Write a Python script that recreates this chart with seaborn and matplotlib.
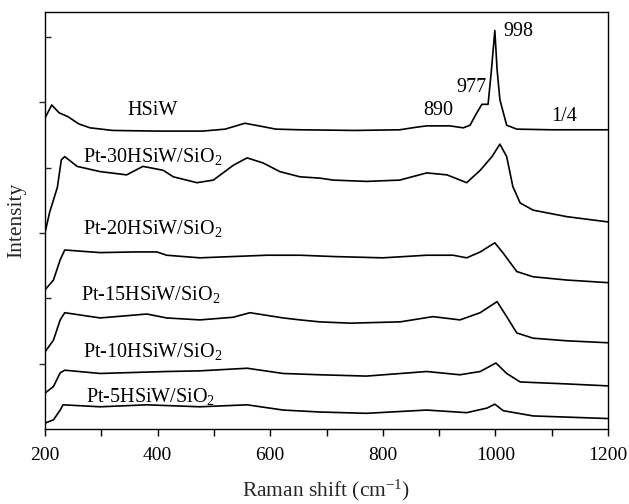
import matplotlib
matplotlib.use("Agg")
import matplotlib.pyplot as plt
from matplotlib.ticker import FixedLocator, NullFormatter
import seaborn as sns
import pandas as pd

# ---- data (intensity in arbitrary stacked units) ----
hsiw_x = [200, 212, 225, 241, 260, 280, 320, 400, 480, 520, 555, 580, 610, 653, 750, 830, 860,
          878, 900, 919, 943, 955, 967, 976, 987, 993, 999, 1003, 1008, 1020, 1038, 1100, 1200]
hsiw_y = [4.76, 4.96, 4.84, 4.78, 4.67, 4.61, 4.57, 4.56, 4.56, 4.59, 4.68, 4.64, 4.59, 4.58, 4.57,
          4.58, 4.62, 4.64, 4.64, 4.64, 4.61, 4.65, 4.84, 4.97, 4.97, 5.50, 6.10, 5.50, 5.04, 4.65,
          4.59, 4.58, 4.58]

pt30_x = [200, 208, 222, 229, 235, 257, 298, 345, 374, 410, 428, 470, 499, 535, 559, 588, 617, 653,
          688, 712, 771, 830, 878, 914, 949, 973, 994, 1008, 1020, 1031, 1044, 1067, 1127, 1200]
pt30_y = [3.00, 3.31, 3.70, 4.12, 4.17, 4.02, 3.94, 3.89, 4.02, 3.96, 3.86, 3.77, 3.81, 4.04, 4.15,
          4.07, 3.94, 3.86, 3.84, 3.81, 3.79, 3.81, 3.92, 3.89, 3.77, 3.96, 4.17, 4.36, 4.17, 3.71,
          3.46, 3.35, 3.25, 3.17]

pt20_x = [200, 215, 227, 235, 298, 357, 399, 416, 475, 534, 594, 653, 712, 800, 878, 925, 949, 973,
          999, 1014, 1038, 1067, 1127, 1200]
pt20_y = [2.13, 2.28, 2.59, 2.74, 2.70, 2.71, 2.71, 2.66, 2.62, 2.64, 2.66, 2.66, 2.64, 2.62, 2.66,
          2.66, 2.62, 2.71, 2.85, 2.69, 2.41, 2.33, 2.28, 2.24]

pt15_x = [200, 215, 227, 235, 298, 381, 416, 475, 534, 564, 623, 653, 688, 742, 831, 889, 937, 973,
          1003, 1020, 1038, 1067, 1127, 1200]
pt15_y = [1.18, 1.36, 1.67, 1.78, 1.70, 1.76, 1.70, 1.67, 1.71, 1.78, 1.70, 1.67, 1.64, 1.62, 1.64,
          1.72, 1.67, 1.78, 1.95, 1.72, 1.47, 1.39, 1.35, 1.32]

pt10_x = [200, 215, 227, 235, 298, 416, 475, 559, 623, 688, 771, 878, 937, 973, 1001, 1020, 1044,
          1127, 1200]
pt10_y = [0.55, 0.65, 0.86, 0.90, 0.85, 0.88, 0.89, 0.93, 0.85, 0.83, 0.81, 0.88, 0.83, 0.88, 1.01,
          0.85, 0.72, 0.69, 0.66]

pt5_x = [200, 215, 227, 232, 298, 381, 475, 559, 623, 688, 771, 878, 949, 985, 999, 1014, 1067, 1200]
pt5_y = [0.09, 0.14, 0.29, 0.37, 0.34, 0.37, 0.34, 0.37, 0.29, 0.26, 0.24, 0.29, 0.25, 0.32, 0.38,
         0.28, 0.20, 0.16]

series_labels = ["HSiW", "Pt-30HSiW/SiO$_2$", "Pt-20HSiW/SiO$_2$", "Pt-15HSiW/SiO$_2$",
                 "Pt-10HSiW/SiO$_2$", "Pt-5HSiW/SiO$_2$"]
label_x = [392, 392, 392, 388, 392, 388]
label_y = [4.88, 4.17, 3.07, 2.06, 1.19, 0.50]

peak_texts = ["890", "977", "998", "1/4"]
peak_x = [898, 958, 1040, 1122]
peak_y = [4.88, 5.23, 6.09, 4.78]

x_ticks = [200, 400, 600, 800, 1000, 1200]
x_minor = [300, 500, 700, 900, 1100]
y_major = [1, 3, 5]
y_minor = [2, 4, 6]

# ---- style ----
sns.set_style("ticks")
plt.rcParams["font.family"] = ["Liberation Serif", "DejaVu Serif"]
plt.rcParams["mathtext.fontset"] = "custom"
plt.rcParams["mathtext.rm"] = "Liberation Serif"
plt.rcParams["mathtext.it"] = "Liberation Serif:italic"
plt.rcParams["mathtext.default"] = "regular"

fig = plt.figure(figsize=(6.29, 5.04), dpi=100)
ax = fig.add_axes([45 / 629, 1 - 429 / 504, 563 / 629, 417 / 504])

xs = [hsiw_x, pt30_x, pt20_x, pt15_x, pt10_x, pt5_x]
ys = [hsiw_y, pt30_y, pt20_y, pt15_y, pt10_y, pt5_y]
for sx, sy in zip(xs, ys):
    df = pd.DataFrame({"x": sx, "y": sy})
    sns.lineplot(data=df, x="x", y="y", color="black", linewidth=1.2, ax=ax,
                 sort=False, estimator=None)

for t, tx, ty in zip(series_labels, label_x, label_y):
    ax.text(tx, ty, t, ha="center", va="center", fontsize=14.5, color="black")
for t, tx, ty in zip(peak_texts, peak_x, peak_y):
    ax.text(tx, ty, t, ha="center", va="center", fontsize=14.5, color="black")

ax.set_xlim(200, 1200)
ax.set_ylim(0, 417 / 65.33)
ax.xaxis.set_major_locator(FixedLocator(x_ticks))
ax.xaxis.set_minor_locator(FixedLocator(x_minor))
ax.yaxis.set_major_locator(FixedLocator(y_major))
ax.yaxis.set_minor_locator(FixedLocator(y_minor))
ax.yaxis.set_major_formatter(NullFormatter())
ax.tick_params(axis="x", which="both", direction="out", length=5, width=1, labelsize=14,
               pad=8, colors="black")
ax.tick_params(axis="y", which="major", direction="out", length=4, width=1)
ax.tick_params(axis="y", which="minor", direction="in", length=4, width=1)
for s in ax.spines.values():
    s.set_visible(True)
    s.set_linewidth(1.0)
    s.set_color("black")

ax.set_xlabel("Raman shift (cm$^{-1}$)", fontsize=15.5, labelpad=10)
ax.set_ylabel("Intensity", fontsize=15.5, labelpad=6)

fig.savefig("out.png", dpi=100)
